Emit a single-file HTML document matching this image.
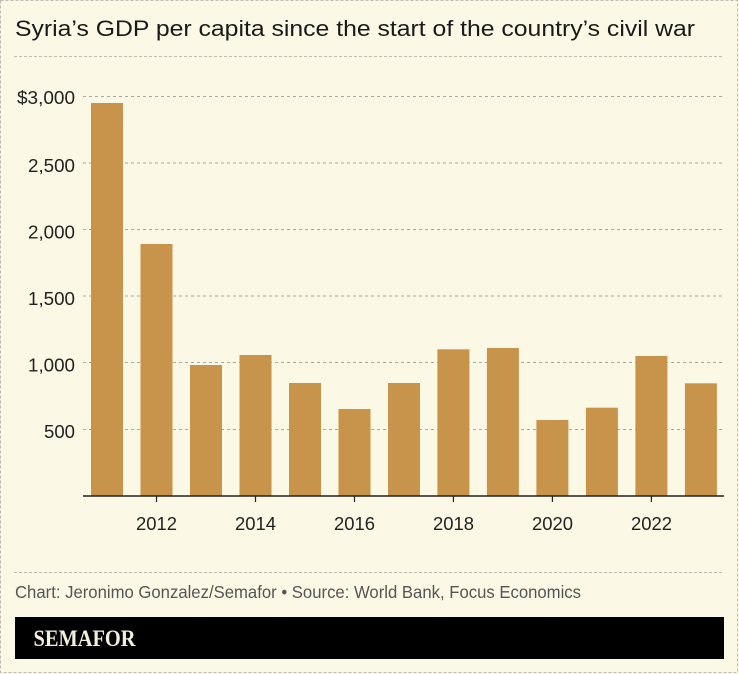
<!DOCTYPE html>
<html><head><meta charset="utf-8"><style>
html,body{margin:0;padding:0;background:#fcf8e6;}
svg{display:block;}
</style></head><body>
<svg width="739" height="674" viewBox="0 0 739 674" xmlns="http://www.w3.org/2000/svg" font-family="Liberation Sans, sans-serif">
<rect x="0" y="0" width="739" height="674" fill="#fcf8e6"/>
<rect x="0.5" y="0.5" width="737" height="672" fill="none" stroke="#bdbdb5" stroke-width="1" stroke-dasharray="3,2"/>
<text x="15" y="36" font-size="22.5" fill="#1a1a1a" textLength="680" lengthAdjust="spacingAndGlyphs">Syria’s GDP per capita since the start of the country’s civil war</text>
<line x1="14" y1="56.5" x2="724" y2="56.5" stroke="#bdbdb5" stroke-width="1" stroke-dasharray="3,2"/>
<g stroke="#a8a8a0" stroke-width="1" stroke-dasharray="3,3">
<line x1="83" y1="96.5" x2="724" y2="96.5"/>
<line x1="83" y1="163" x2="724" y2="163"/>
<line x1="83" y1="229.5" x2="724" y2="229.5"/>
<line x1="83" y1="296" x2="724" y2="296"/>
<line x1="83" y1="362.5" x2="724" y2="362.5"/>
<line x1="83" y1="429.5" x2="724" y2="429.5"/>
</g>
<g font-size="18.5" fill="#222">
<text x="17" y="104" textLength="58" lengthAdjust="spacingAndGlyphs">$3,000</text>
<text x="28" y="172" textLength="47" lengthAdjust="spacingAndGlyphs">2,500</text>
<text x="28" y="238.5" textLength="47" lengthAdjust="spacingAndGlyphs">2,000</text>
<text x="28" y="305" textLength="47" lengthAdjust="spacingAndGlyphs">1,500</text>
<text x="28" y="371.5" textLength="47" lengthAdjust="spacingAndGlyphs">1,000</text>
<text x="44" y="438" textLength="31" lengthAdjust="spacingAndGlyphs">500</text>
</g>
<g fill="#c8934a">
<rect x="91" y="103" width="32" height="393"/>
<rect x="140.5" y="244" width="32" height="252"/>
<rect x="190" y="365" width="32" height="131"/>
<rect x="239.5" y="355" width="32" height="141"/>
<rect x="289" y="383" width="32" height="113"/>
<rect x="338.5" y="409" width="32" height="87"/>
<rect x="388" y="383" width="32" height="113"/>
<rect x="437.4" y="349.3" width="32" height="146.7"/>
<rect x="486.9" y="348" width="32" height="148"/>
<rect x="536.4" y="420" width="32" height="76"/>
<rect x="585.9" y="407.7" width="32" height="88.3"/>
<rect x="635.4" y="356" width="32" height="140"/>
<rect x="684.9" y="383.3" width="32" height="112.7"/>
</g>
<line x1="83" y1="496" x2="724" y2="496" stroke="#222" stroke-width="1.5"/>
<g stroke="#222" stroke-width="1.2">
<line x1="156.5" y1="496" x2="156.5" y2="502"/>
<line x1="255.5" y1="496" x2="255.5" y2="502"/>
<line x1="354.5" y1="496" x2="354.5" y2="502"/>
<line x1="453.4" y1="496" x2="453.4" y2="502"/>
<line x1="552.4" y1="496" x2="552.4" y2="502"/>
<line x1="651.4" y1="496" x2="651.4" y2="502"/>
</g>
<g font-size="18.5" fill="#222">
<text x="136" y="530" textLength="41" lengthAdjust="spacingAndGlyphs">2012</text>
<text x="235" y="530" textLength="41" lengthAdjust="spacingAndGlyphs">2014</text>
<text x="334" y="530" textLength="41" lengthAdjust="spacingAndGlyphs">2016</text>
<text x="433" y="530" textLength="41" lengthAdjust="spacingAndGlyphs">2018</text>
<text x="532" y="530" textLength="41" lengthAdjust="spacingAndGlyphs">2020</text>
<text x="631" y="530" textLength="41" lengthAdjust="spacingAndGlyphs">2022</text>
</g>
<line x1="14" y1="572.5" x2="724" y2="572.5" stroke="#bdbdb5" stroke-width="1" stroke-dasharray="3,2"/>
<text x="15" y="598" font-size="17.5" fill="#555" textLength="566" lengthAdjust="spacingAndGlyphs">Chart: Jeronimo Gonzalez/Semafor • Source: World Bank, Focus Economics</text>
<rect x="15" y="617" width="709" height="42" fill="#000"/>
<text x="33.5" y="646" style="font-family:'Liberation Serif',serif;font-weight:bold;font-size:23px" fill="#f4efdc" textLength="102" lengthAdjust="spacingAndGlyphs">SEMAFOR</text>
</svg>
</body></html>
